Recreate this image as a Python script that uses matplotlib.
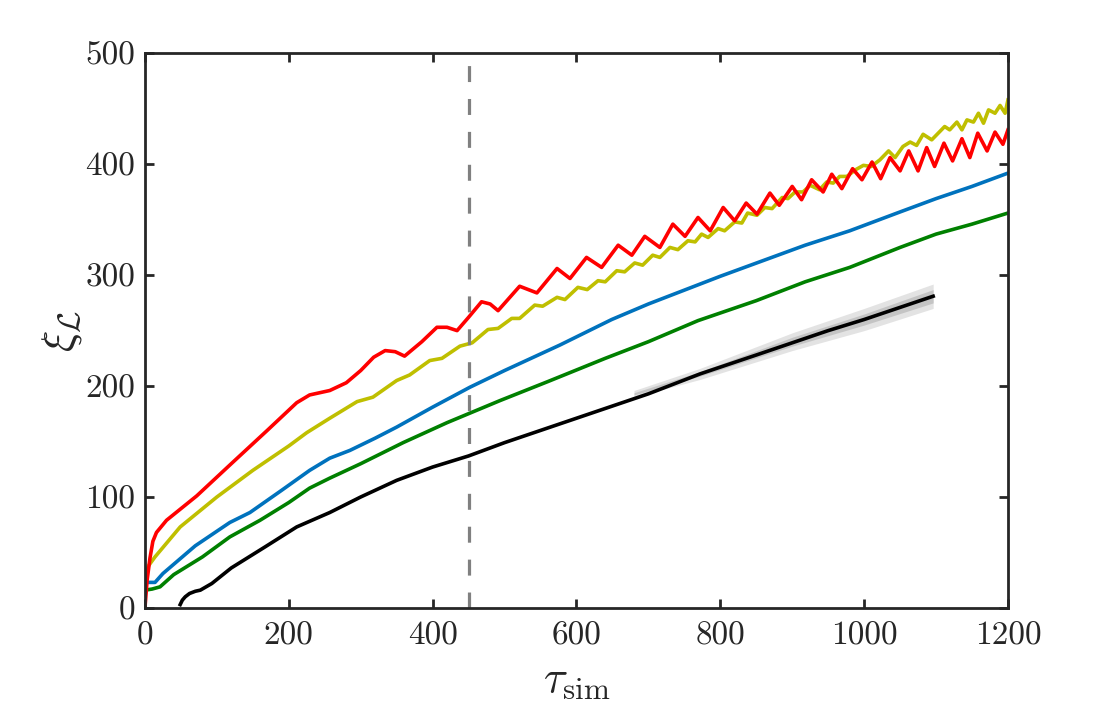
import matplotlib.pyplot as plt
import numpy as np

plt.rcParams["font.family"] = "serif"
plt.rcParams["font.serif"] = ["cmr10", "DejaVu Serif"]
plt.rcParams["mathtext.fontset"] = "cm"
plt.rcParams["axes.formatter.use_mathtext"] = True

# %% Dane
red_t = [0, 3, 7, 11, 16, 30, 72, 120, 170, 211, 229, 257, 280, 300, 318, 334, 348, 361, 385, 406, 420, 434, 450,
         468, 480, 491, 506, 521, 545, 573, 591, 614, 635, 658, 677, 695, 716, 734, 751, 769, 786, 804, 820,
         836, 851, 869, 882, 900, 913, 927, 943, 955, 969, 984, 997, 1011, 1023, 1036, 1050, 1062,
         1075, 1087, 1098, 1111, 1123, 1136, 1147, 1158, 1171, 1182, 1193, 1200]
red_xi = [0, 25, 45, 60, 68, 79, 101, 130, 160, 185, 192, 196, 203, 214, 226, 232, 231, 227, 240, 253, 253, 250, 262,
          276, 274, 268, 279, 290, 284, 306, 297, 316, 307, 327, 318, 335, 325, 346, 335, 352, 340, 361, 349,
          365, 355, 374, 363, 380, 368, 386, 375, 391, 378, 396, 386, 402, 387, 406, 394, 412,
          394, 415, 398, 419, 403, 423, 406, 428, 412, 429, 418, 431]

yel_t = [0, 5, 14, 49, 100, 150, 200, 225, 257, 295, 317, 350, 368, 396, 413, 438, 455, 477, 491,
         510, 521, 542, 553, 573, 584, 602, 615, 630, 640, 656, 667, 681, 692, 706, 716, 730, 741,
         755, 765, 774, 783, 797, 806, 820, 830, 838, 851, 862, 872, 886, 894, 904, 915, 925, 938,
         948, 957, 966, 976, 988, 999, 1010, 1022, 1034, 1043, 1054, 1064, 1073, 1082, 1094, 1103,
         1112, 1119, 1129, 1136, 1143, 1152, 1159, 1166, 1173, 1182, 1189, 1196, 1200]
yel_xi = [28, 38, 46, 73, 100, 124, 146, 158, 171, 186, 190, 205, 210, 223, 225, 236, 239, 251, 252,
          261, 261, 273, 272, 280, 278, 289, 287, 295, 294, 304, 303, 311, 309, 318, 316, 325, 323,
          331, 330, 337, 334, 342, 340, 348, 347, 356, 354, 361, 360, 370, 369, 375, 375, 381, 377,
          384, 383, 389, 389, 395, 399, 398, 404, 412, 406, 416, 420, 417, 427, 422, 428,
          434, 431, 438, 431, 440, 438, 446, 437, 449, 446, 453, 446, 458]

blue_t = [0, 14, 25, 70, 118, 146, 190, 229, 257, 285, 320, 350, 400, 452, 500, 577, 649, 700,
          800, 918, 980, 1050, 1100, 1150, 1200]
blue_xi = [23, 23, 31, 56, 77, 86, 106, 124, 135, 142, 153, 163, 181, 199, 214, 237, 260, 274,
           299, 327, 340, 357, 369, 380, 392]

green_t = [0, 10, 21, 40, 80, 118, 160, 200, 229, 257, 300, 359, 420, 494, 560, 640, 700, 769,
           850, 918, 980, 1050, 1100, 1150, 1200]
green_xi = [16, 17, 19, 30, 46, 64, 79, 95, 108, 117, 130, 149, 167, 187, 204, 225, 240, 259,
            277, 294, 307, 325, 337, 346, 356]

black_t = [49, 52, 56, 62, 70, 77, 93, 120, 167, 211, 257, 300, 350, 400, 450, 500, 600, 700,
           772, 850, 950, 1000, 1096]
black_xi = [3, 7, 10, 13, 15, 16, 22, 36, 55, 73, 86, 100, 115, 127, 137, 149, 171, 193,
            211, 228, 250, 260, 281]

# pasmo niepewnosci wokol czarnej krzywej
band_t = [680, 772, 900, 1000, 1096]
band_out_lo = [190, 206, 232, 250, 270]
band_out_hi = [196, 216, 248, 270, 292]
band_in_lo = [192, 209, 236, 255, 275]
band_in_hi = [194, 213, 244, 265, 287]

tau_cut = 450

# %% Wykres
fig = plt.figure(figsize=(11.15, 7.11), dpi=100)
ax = fig.add_axes([0.130, 0.145, 0.774, 0.780])

lw = 2.6
ax.fill_between(band_t, band_out_lo, band_out_hi, color="0.82", alpha=0.6, lw=0)
ax.fill_between(band_t, band_in_lo, band_in_hi, color="0.65", alpha=0.5, lw=0)
ax.plot(black_t, black_xi, color="k", lw=lw)
ax.plot(green_t, green_xi, color=(0, 0.5, 0), lw=lw)
ax.plot(blue_t, blue_xi, color=(0, 0.447, 0.741), lw=lw)
ax.plot(yel_t, yel_xi, color=(0.75, 0.75, 0), lw=lw)
ax.plot(red_t, red_xi, color=(1, 0, 0), lw=lw)
ax.axvline(tau_cut, color="0.5", lw=2.3, dashes=(5.0, 5.3))

ax.set_xlim(0, 1200)
ax.set_ylim(0, 500)
ax.set_xticks(np.arange(0, 1201, 200))
ax.set_yticks(np.arange(0, 501, 100))
ax.set_xticklabels([str(v) for v in range(0, 1201, 200)])
ax.set_yticklabels([str(v) for v in range(0, 501, 100)])

dark = "#262626"
for s in ax.spines.values():
    s.set_linewidth(2.0)
    s.set_color(dark)
ax.tick_params(direction="in", top=True, right=True, length=6.5, width=2.0,
               colors=dark, labelsize=24, pad=7)
ax.tick_params(axis="x", pad=10)

ax.set_xlabel(r"$\tau_{\rm sim}$", fontsize=32, color=dark, labelpad=7)
ax.set_ylabel(r"$\xi_{\mathcal{L}}$", fontsize=32, color=dark, labelpad=1)

fig.savefig("out.png", dpi=100)
